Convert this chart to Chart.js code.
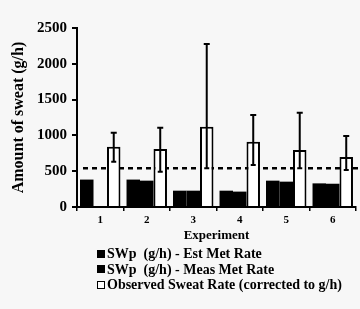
<!DOCTYPE html>
<html>
<head>
<meta charset="utf-8">
<script src="https://cdn.jsdelivr.net/npm/chart.js@4.4.1/dist/chart.umd.min.js"></script>
<style>
  html, body { margin: 0; padding: 0; background: #f7f7f7; }
  #wrap { position: relative; width: 360px; height: 309px; }
  #legend { position: absolute; left: 97px; top: 246px; font-family: "Liberation Serif", "DejaVu Serif", serif; font-weight: bold; font-size: 14px; color: #000; }
  .li { height: 15.5px; line-height: 15.5px; white-space: nowrap; display: flex; align-items: center; }
  .sw { display: inline-block; width: 8px; height: 8px; margin-right: 2px; box-sizing: border-box; }
</style>
</head>
<body>
<div id="wrap">
  <canvas id="c" width="360" height="309"></canvas>
  <div id="legend"></div>
</div>
<script>
const categories = ["1", "2", "3", "4", "5", "6"];
const seriesNames = ["SWp  (g/h) - Est Met Rate", "SWp  (g/h) - Meas Met Rate", "Observed Sweat Rate (corrected to g/h)"];
const estMetRate = [383, 383, 228, 228, 368, 330];
const measMetRate = [null, 368, 228, 215, 354, 325];
const observedRate = [840, 810, 1121, 912, 796, 700];
const observedHigh = [1050, 1121, 2290, 1299, 1331, 1006];
const observedLow = [632, 493, 540, 586, 540, 517];
const referenceLevel = 540;
const yTicks = [0, 500, 1000, 1500, 2000, 2500];

const serif = '"Liberation Serif", "DejaVu Serif", serif';

const refLine = {
  id: 'refLine',
  beforeDatasetsDraw(chart) {
    const { ctx, scales: { y }, chartArea } = chart;
    const py = y.getPixelForValue(referenceLevel);
    ctx.save();
    ctx.strokeStyle = '#000';
    ctx.lineWidth = 2.5;
    ctx.setLineDash([5, 4]);
    ctx.beginPath();
    ctx.moveTo(chartArea.left + 6, py);
    ctx.lineTo(360, py);
    ctx.stroke();
    ctx.restore();
  }
};

const errorBars = {
  id: 'errorBars',
  afterDatasetsDraw(chart) {
    const { ctx, scales: { y } } = chart;
    const meta = chart.getDatasetMeta(2);
    ctx.save();
    ctx.strokeStyle = '#000';
    ctx.lineWidth = 2;
    meta.data.forEach((bar, i) => {
      const x = bar.x;
      const top = y.getPixelForValue(observedHigh[i]);
      const bot = y.getPixelForValue(observedLow[i]);
      ctx.beginPath();
      ctx.moveTo(x, top);
      ctx.lineTo(x, bot);
      ctx.moveTo(x - 3, top + 1);
      ctx.lineTo(x + 3, top + 1);
      ctx.moveTo(x - 2.5, bot);
      ctx.lineTo(x + 2.5, bot);
      ctx.stroke();
    });
    ctx.restore();
  }
};

new Chart(document.getElementById('c'), {
  type: 'bar',
  data: {
    labels: categories,
    datasets: [
      { label: seriesNames[0], data: estMetRate, backgroundColor: '#000', borderWidth: 0 },
      { label: seriesNames[1], data: measMetRate, backgroundColor: '#000', borderWidth: 0 },
      { label: seriesNames[2], data: observedRate, backgroundColor: '#fff', borderColor: '#000', borderWidth: 2 }
    ]
  },
  options: {
    responsive: false,
    animation: false,
    devicePixelRatio: 1,
    categoryPercentage: 0.87,
    barPercentage: 1.0,
    layout: { padding: { left: 0, right: 4, top: 28, bottom: 64 } },
    plugins: { legend: { display: false }, tooltip: { enabled: false } },
    scales: {
      x: {
        offset: true,
        grid: { display: true, offset: true, drawOnChartArea: false, drawTicks: true, tickLength: 4, color: '#000', lineWidth: 1.5 },
        border: { display: true, color: '#000', width: 2 },
        ticks: { color: '#000', font: { family: serif, size: 11, weight: 'bold' }, padding: 3, maxRotation: 0 },
        title: { display: true, text: 'Experiment', color: '#000', font: { family: serif, size: 13, weight: 'bold' }, padding: { top: 0, bottom: 2 } },
        afterFit(scale) { scale.height = 38; }
      },
      y: {
        min: 0, max: 2500,
        afterBuildTicks(scale) { scale.ticks = yTicks.map(v => ({ value: v })); },
        grid: { display: true, drawOnChartArea: false, drawTicks: true, tickLength: 5, color: '#000', lineWidth: 2 },
        border: { display: true, color: '#000', width: 2 },
        ticks: { color: '#000', font: { family: serif, size: 15, weight: 'bold' }, padding: 5, callback: (v) => String(v) },
        title: { display: true, text: 'Amount of sweat (g/h)', color: '#000', font: { family: serif, size: 16, weight: 'bold' }, padding: { top: 9, bottom: 0 } },
        afterFit(scale) { scale.width = 77; }
      }
    }
  },
  plugins: [refLine, errorBars]
});

const legendEl = document.getElementById('legend');
const legendStyles = [
  'background:#000;',
  'background:#000;',
  'background:#fff;border:1.5px solid #000;'
];
seriesNames.forEach((name, i) => {
  const row = document.createElement('div');
  row.className = 'li';
  const sw = document.createElement('span');
  sw.className = 'sw';
  sw.style.cssText = legendStyles[i];
  const tx = document.createElement('span');
  tx.textContent = name;
  tx.style.whiteSpace = 'pre';
  row.appendChild(sw);
  row.appendChild(tx);
  legendEl.appendChild(row);
});
</script>
</body>
</html>
